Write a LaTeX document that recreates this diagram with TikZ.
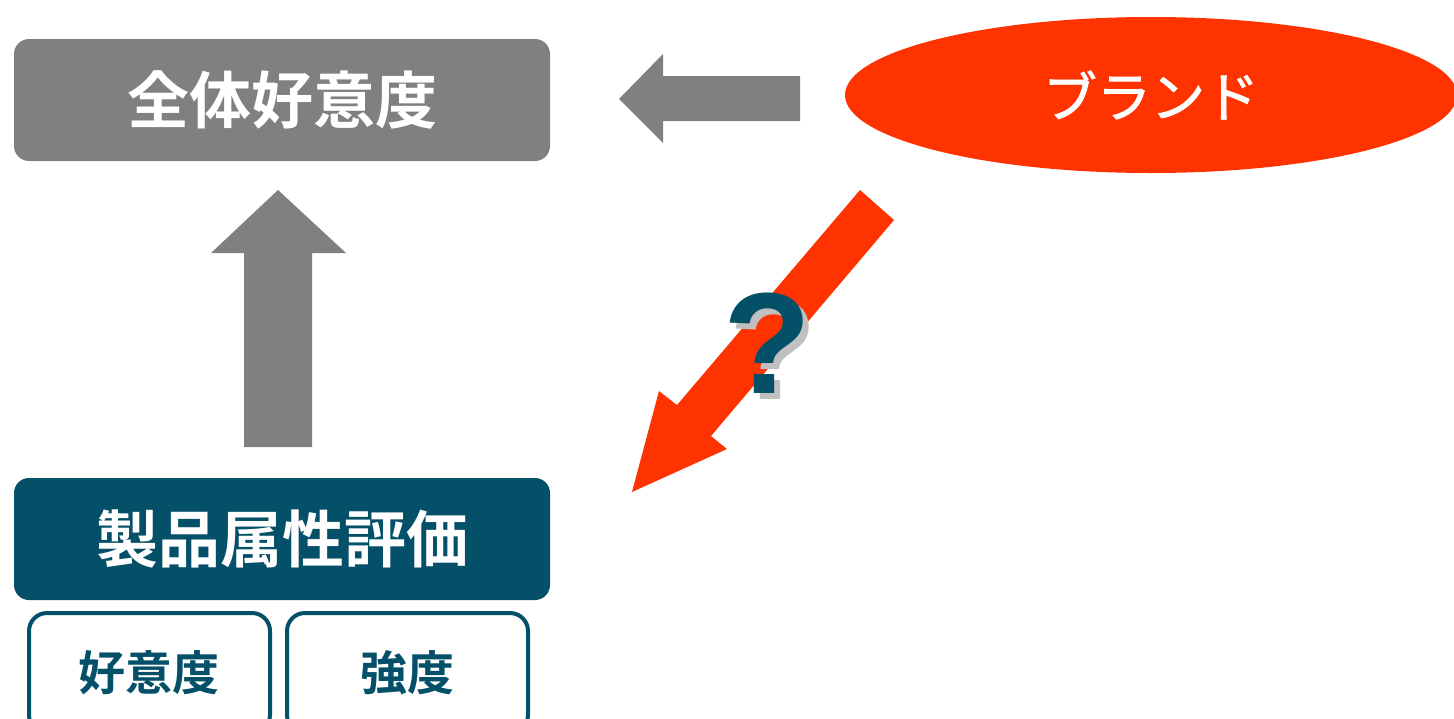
\documentclass[tikz,border=0pt]{standalone}
\usepackage{fontspec}
\newfontfamily\cjk[FakeBold=1.6]{Noto Sans CJK JP}
\newfontfamily\cjkb{Noto Sans CJK JP Bold}
\setmainfont{Liberation Sans}
\usetikzlibrary{shapes.geometric}
\definecolor{boxgray}{RGB}{128,128,128}
\definecolor{brandred}{RGB}{255,51,0}
\definecolor{teal}{RGB}{4,80,104}
\definecolor{shadowgray}{RGB}{192,192,192}
\tikzset{
  bigbox/.style={rounded corners=15pt, minimum width=536pt, minimum height=122pt, inner sep=0pt, text=white, font=\cjkb\fontsize{62}{62}\selectfont},
  smallbox/.style={draw=teal, line width=4pt, fill=white, rounded corners=18pt, minimum width=241pt, minimum height=120pt, inner sep=0pt},
  smalltext/.style={text=teal, inner sep=0pt, font=\cjkb\fontsize{47}{47}\selectfont},
  blockgray/.style={fill=boxgray, draw=none},
  blockred/.style={fill=brandred, draw=none}
}
\begin{document}
\begin{tikzpicture}[x=1pt,y=-1pt]
\useasboundingbox (0,0) rectangle (1454,718);
\clip (0,0) rectangle (1454,718);
% top gray box
\node[bigbox, fill=boxgray] (total) at (282,100) {\raisebox{-6pt}{全体好意度}};
% brand ellipse
\node[ellipse, fill=brandred, minimum width=612pt, minimum height=156pt, inner sep=0pt,
      text=white, font=\cjk\fontsize{54}{54}\selectfont] (brand) at (1151,95) {\raisebox{-2pt}{ブランド}};
% product attribute box
\node[bigbox, fill=teal] (attr) at (282,539) {\raisebox{-6pt}{製品属性評価}};
% small boxes
\node[smallbox] (likebox) at (149.5,673) {};
\node[smallbox] (strbox) at (407.5,673) {};
\node[smalltext] (liketext) at (149,673) {好意度};
\node[smalltext] (strtext) at (407,673) {強度};
% left gray arrow
\fill[blockgray] (619,99) -- (663,54) -- (663,76) -- (800,76) -- (800,121) -- (663,121) -- (663,143) -- cycle;
% up gray arrow
\fill[blockgray] (278,190) -- (346,253) -- (312,253) -- (312,447) -- (244,447) -- (244,253) -- (211,253) -- cycle;
% red diagonal arrow
\fill[blockred] (860,190) -- (894,220) -- (711,436) -- (727,449) -- (632,492) -- (659,391) -- (677,405) -- cycle;
% question mark with shadow
\node[anchor=base, inner sep=0pt, text=shadowgray, font=\bfseries\fontsize{144}{144}\selectfont] (qshadow) at (773,399) {?};
\node[anchor=base, inner sep=0pt, text=teal, font=\bfseries\fontsize{144}{144}\selectfont] (qmark) at (767,393) {?};
\end{tikzpicture}
\end{document}
